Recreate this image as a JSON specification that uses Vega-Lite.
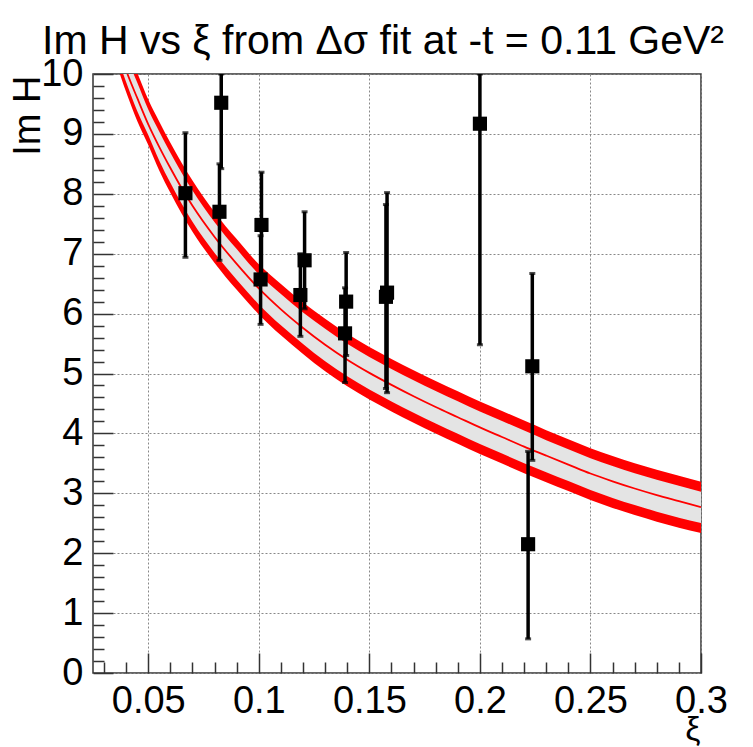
{
  "$schema": "https://vega.github.io/schema/vega-lite/v6.json",
  "width": 608,
  "height": 599,
  "autosize": "none",
  "padding": {"left": 93, "top": 74, "right": 52, "bottom": 74},
  "background": "white",
  "config": {"view": {"stroke": "#333", "strokeWidth": 1.5}, "font": "Liberation Sans"},
  "title": {"text": "Im H vs ξ from Δσ fit at -t = 0.11 GeV²", "anchor": "start", "frame": "group", "dx": -51, "offset": 0, "dy": 40, "baseline": "alphabetic", "fontSize": 41, "fontWeight": "normal", "font": "Liberation Sans", "color": "black"},
  "datasets": {
    "band": [
      {"xi": 0.034, "c": 10.75, "hi": 11.1, "lo": 10.45},
      {"xi": 0.037, "c": 10.38, "hi": 10.72, "lo": 10.1},
      {"xi": 0.0406, "c": 10.0, "hi": 10.34, "lo": 9.72},
      {"xi": 0.045, "c": 9.6, "hi": 9.94, "lo": 9.3},
      {"xi": 0.05, "c": 9.16, "hi": 9.49, "lo": 8.9},
      {"xi": 0.055, "c": 8.78, "hi": 9.12, "lo": 8.47},
      {"xi": 0.06, "c": 8.43, "hi": 8.77, "lo": 8.1},
      {"xi": 0.065, "c": 8.1, "hi": 8.44, "lo": 7.76},
      {"xi": 0.07, "c": 7.8, "hi": 8.14, "lo": 7.45},
      {"xi": 0.08, "c": 7.28, "hi": 7.61, "lo": 6.93},
      {"xi": 0.09, "c": 6.83, "hi": 7.16, "lo": 6.48},
      {"xi": 0.1, "c": 6.42, "hi": 6.74, "lo": 6.07},
      {"xi": 0.11, "c": 6.07, "hi": 6.41, "lo": 5.72},
      {"xi": 0.12, "c": 5.76, "hi": 6.1, "lo": 5.41},
      {"xi": 0.13, "c": 5.48, "hi": 5.83, "lo": 5.12},
      {"xi": 0.14, "c": 5.23, "hi": 5.58, "lo": 4.87},
      {"xi": 0.15, "c": 5.01, "hi": 5.36, "lo": 4.65},
      {"xi": 0.16, "c": 4.81, "hi": 5.16, "lo": 4.45},
      {"xi": 0.17, "c": 4.62, "hi": 4.97, "lo": 4.26},
      {"xi": 0.18, "c": 4.44, "hi": 4.79, "lo": 4.08},
      {"xi": 0.19, "c": 4.27, "hi": 4.62, "lo": 3.91},
      {"xi": 0.2, "c": 4.1, "hi": 4.45, "lo": 3.74},
      {"xi": 0.21, "c": 3.94, "hi": 4.29, "lo": 3.58},
      {"xi": 0.22, "c": 3.78, "hi": 4.13, "lo": 3.42},
      {"xi": 0.23, "c": 3.63, "hi": 3.97, "lo": 3.27},
      {"xi": 0.24, "c": 3.48, "hi": 3.82, "lo": 3.12},
      {"xi": 0.25, "c": 3.33, "hi": 3.67, "lo": 2.97},
      {"xi": 0.26, "c": 3.2, "hi": 3.54, "lo": 2.84},
      {"xi": 0.27, "c": 3.08, "hi": 3.42, "lo": 2.72},
      {"xi": 0.28, "c": 2.97, "hi": 3.31, "lo": 2.61},
      {"xi": 0.29, "c": 2.87, "hi": 3.21, "lo": 2.51},
      {"xi": 0.3, "c": 2.77, "hi": 3.11, "lo": 2.42}
    ],
    "pts": [
      {"xi": 0.0668, "y": 8.01, "lo": 6.94, "hi": 9.02},
      {"xi": 0.083, "y": 9.52, "lo": 8.42, "hi": 10.0},
      {"xi": 0.0822, "y": 7.7, "lo": 6.89, "hi": 8.5},
      {"xi": 0.1012, "y": 7.48, "lo": 6.6, "hi": 8.36},
      {"xi": 0.1008, "y": 6.57, "lo": 5.82, "hi": 7.3},
      {"xi": 0.1207, "y": 6.89, "lo": 6.08, "hi": 7.7},
      {"xi": 0.1188, "y": 6.31, "lo": 5.62, "hi": 7.0},
      {"xi": 0.1395, "y": 6.2, "lo": 5.3, "hi": 7.02},
      {"xi": 0.139, "y": 5.67, "lo": 4.85, "hi": 6.43},
      {"xi": 0.158, "y": 6.35, "lo": 4.68, "hi": 8.02},
      {"xi": 0.1575, "y": 6.28, "lo": 4.75, "hi": 7.82},
      {"xi": 0.2, "y": 9.17, "lo": 5.48, "hi": 10.0},
      {"xi": 0.2237, "y": 5.12, "lo": 3.55, "hi": 6.67},
      {"xi": 0.2218, "y": 2.15, "lo": 0.57, "hi": 3.7}
    ]
  },
  "layer": [
    {
      "data": {"name": "band"},
      "mark": {"type": "area", "color": "#e4e4e4", "interpolate": "monotone", "clip": true},
      "encoding": {
        "x": {"field": "xi", "type": "quantitative", "scale": {"domain": [0.025, 0.3], "nice": false, "zero": false},
          "axis": {"orient": "bottom", "values": [0.05, 0.1, 0.15, 0.2, 0.25, 0.3], "format": "~g", "domain": false,
            "grid": true, "gridColor": "#888", "gridDash": [2, 2], "gridWidth": 1,
            "tickSize": -20, "tickColor": "#333", "tickWidth": 1.5,
            "labelFontSize": 38, "labelColor": "black", "labelPadding": 29, "labelFlush": false, "labelOverlap": false, "labelBound": false,
            "title": "ξ", "titleFontSize": 34, "titleFontWeight": "normal", "titleColor": "black", "titleAnchor": "end", "titleAlign": "right", "titleBaseline": "alphabetic", "titleX": 607, "titleY": 66}},
        "y": {"field": "lo", "type": "quantitative", "scale": {"domain": [0, 10], "nice": false, "zero": false},
          "axis": {"orient": "left", "values": [0, 1, 2, 3, 4, 5, 6, 7, 8, 9, 10], "format": "d", "domain": false,
            "grid": true, "gridColor": "#888", "gridDash": [2, 2], "gridWidth": 1,
            "tickSize": -20, "tickColor": "#333", "tickWidth": 1.5,
            "labelFontSize": 38, "labelColor": "black", "labelPadding": 30, "labelAlign": "right", "labelBaseline": "middle", "labelFlush": false, "labelOverlap": false, "labelBound": false,
            "title": "Im H", "titleFontSize": 38, "titleFontWeight": "normal", "titleColor": "black", "titleAngle": -90, "titleAlign": "right", "titleBaseline": "alphabetic", "titleX": -54, "titleY": 1}},
        "y2": {"field": "hi"}
      }
    },
    {
      "data": {"name": "band"},
      "mark": {"type": "area", "color": "#ff0000", "interpolate": "monotone", "yOffset": -5, "y2Offset": 5, "clip": true},
      "encoding": {
        "x": {"field": "xi", "type": "quantitative",
          "axis": {"orient": "bottom", "values": [0.03, 0.04, 0.06, 0.07, 0.08, 0.09, 0.11, 0.12, 0.13, 0.14, 0.16, 0.17, 0.18, 0.19, 0.21, 0.22, 0.23, 0.24, 0.26, 0.27, 0.28, 0.29],
            "domain": false, "grid": false, "labels": false, "title": null, "tickSize": -11, "tickColor": "#333", "tickWidth": 1.5}},
        "y": {"field": "hi", "type": "quantitative",
          "axis": {"orient": "left", "values": [0.2, 0.4, 0.6, 0.8, 1.2, 1.4, 1.6, 1.8, 2.2, 2.4, 2.6, 2.8, 3.2, 3.4, 3.6, 3.8, 4.2, 4.4, 4.6, 4.8, 5.2, 5.4, 5.6, 5.8, 6.2, 6.4, 6.6, 6.8, 7.2, 7.4, 7.6, 7.8, 8.2, 8.4, 8.6, 8.8, 9.2, 9.4, 9.6, 9.8],
            "domain": false, "grid": false, "labels": false, "title": null, "tickSize": -11, "tickColor": "#333", "tickWidth": 1.5}},
        "y2": {"field": "hi"}
      }
    },
    {
      "data": {"name": "band"},
      "mark": {"type": "area", "color": "#ff0000", "interpolate": "monotone", "yOffset": -5, "y2Offset": 5, "clip": true},
      "encoding": {
        "x": {"field": "xi", "type": "quantitative", "axis": null},
        "y": {"field": "lo", "type": "quantitative", "axis": null},
        "y2": {"field": "lo"}
      }
    },
    {
      "data": {"name": "band"},
      "mark": {"type": "line", "color": "#ff0000", "strokeWidth": 1.8, "interpolate": "monotone", "clip": true},
      "encoding": {
        "x": {"field": "xi", "type": "quantitative", "axis": null},
        "y": {"field": "c", "type": "quantitative", "axis": null}
      }
    },
    {
      "data": {"name": "pts"},
      "mark": {"type": "rule", "color": "black", "strokeWidth": 3.5, "clip": true},
      "encoding": {
        "x": {"field": "xi", "type": "quantitative", "axis": null},
        "y": {"field": "lo", "type": "quantitative", "axis": null},
        "y2": {"field": "hi"}
      }
    },
    {
      "data": {"name": "pts"},
      "mark": {"type": "tick", "orient": "horizontal", "color": "black", "size": 6, "thickness": 3, "clip": true},
      "encoding": {
        "x": {"field": "xi", "type": "quantitative", "axis": null},
        "y": {"field": "lo", "type": "quantitative", "axis": null}
      }
    },
    {
      "data": {"name": "pts"},
      "mark": {"type": "tick", "orient": "horizontal", "color": "black", "size": 6, "thickness": 3, "clip": true},
      "encoding": {
        "x": {"field": "xi", "type": "quantitative", "axis": null},
        "y": {"field": "hi", "type": "quantitative", "axis": null}
      }
    },
    {
      "data": {"name": "pts"},
      "mark": {"type": "point", "shape": "square", "filled": true, "color": "black", "size": 200, "opacity": 1, "clip": true},
      "encoding": {
        "x": {"field": "xi", "type": "quantitative", "axis": null},
        "y": {"field": "y", "type": "quantitative", "axis": null}
      }
    }
  ],
  "resolve": {"axis": {"x": "independent", "y": "independent"}}
}
